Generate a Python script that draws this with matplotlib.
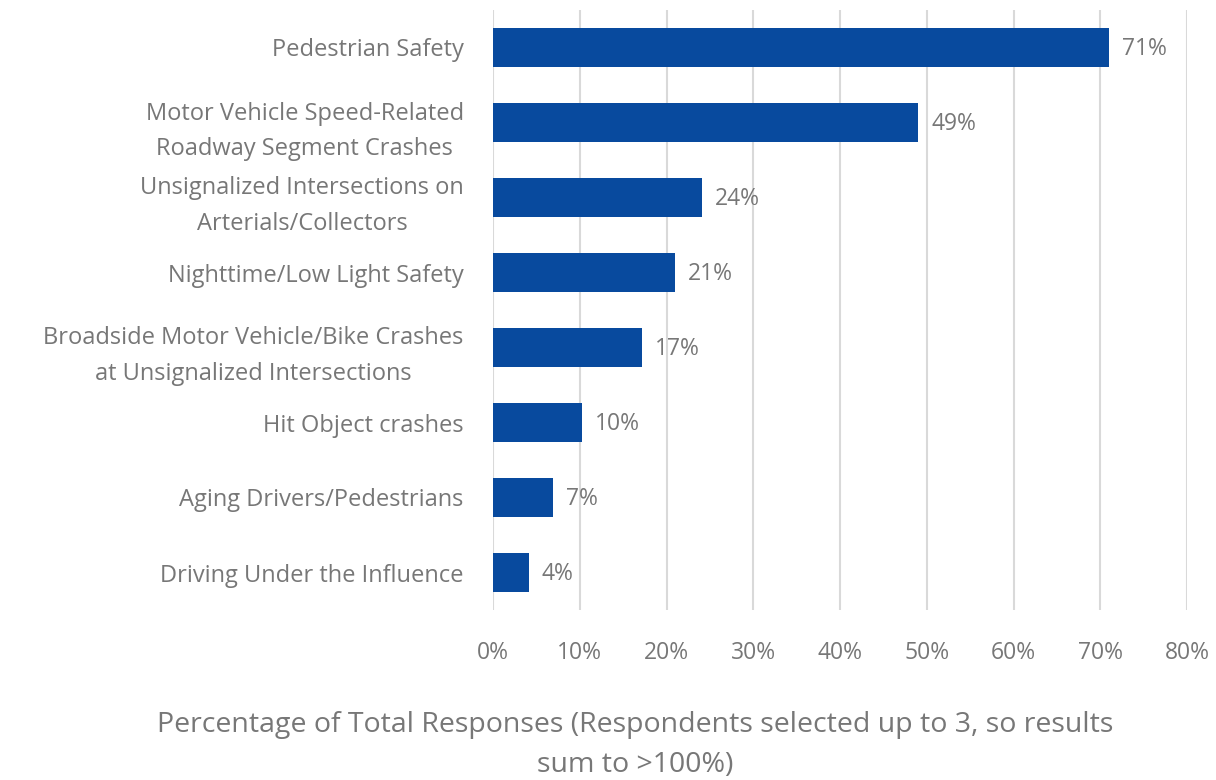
import matplotlib.pyplot as plt
from matplotlib.ticker import FuncFormatter

# data
categories = [
    "Pedestrian Safety",
    "Motor Vehicle Speed-Related\nRoadway Segment Crashes",
    "Unsignalized Intersections on\nArterials/Collectors",
    "Nighttime/Low Light Safety",
    "Broadside Motor Vehicle/Bike Crashes\nat Unsignalized Intersections",
    "Hit Object crashes",
    "Aging Drivers/Pedestrians",
    "Driving Under the Influence",
]
values = [71.0, 49.0, 24.1, 21.0, 17.2, 10.3, 6.9, 4.1]
x_ticks = [0, 10, 20, 30, 40, 50, 60, 70, 80]

bar_color = "#084a9e"
text_color = "#777777"
grid_color = "#d9d9d9"

plt.rcParams['font.family'] = ['Open Sans', 'DejaVu Sans']

fig = plt.figure(figsize=(12.16, 7.8), dpi=100)
ax = fig.add_axes([493/1216, 1 - 610/780, (1187-493)/1216, 600/780])

y = list(range(len(categories)))
ax.barh(y, values, height=0.53, color=bar_color, zorder=3)
ax.set_ylim(len(categories) - 0.5, -0.5)
ax.set_xlim(0, 80)

for yi, v in zip(y, values):
    ax.text(v + 1.5, yi + 0.02, "{0:.0f}%".format(v), va='center', ha='left',
            fontsize=16.5, color=text_color)

ax.set_yticks(y)
ax.set_yticklabels(categories, fontsize=17, color=text_color,
                   multialignment='center', linespacing=1.65)
ax.set_xticks(x_ticks)
ax.xaxis.set_major_formatter(FuncFormatter(lambda v, p: "{0:.0f}%".format(v)))
ax.tick_params(axis='x', labelsize=16.5, labelcolor=text_color, length=0, pad=22)
ax.tick_params(axis='y', length=0, pad=21)

ax.grid(axis='x', color=grid_color, linewidth=1.5, zorder=0)
for s in ax.spines.values():
    s.set_visible(False)

fig.text(635/1216, 1 - 745/780,
         "Percentage of Total Responses (Respondents selected up to 3, so results\nsum to >100%)",
         ha='center', va='center', fontsize=20.5, color=text_color, linespacing=1.6)

fig.savefig("out.png", dpi=100)
